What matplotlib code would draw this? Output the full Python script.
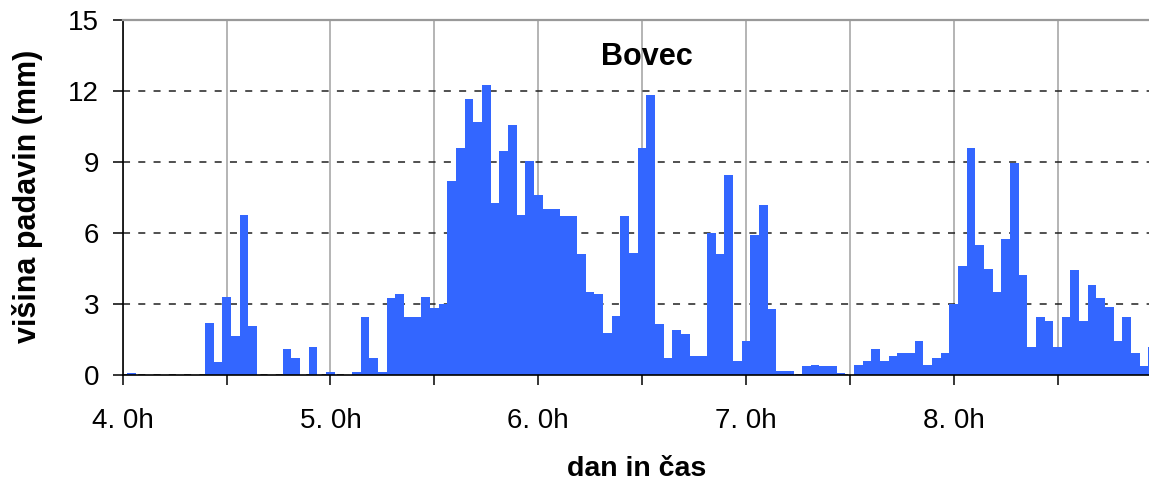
import numpy as np
import matplotlib.pyplot as plt
from matplotlib.ticker import FixedLocator, FixedFormatter

plt.rcParams['font.family'] = ['Liberation Sans', 'DejaVu Sans']

# hourly rainfall (mm), first bar at day 4.0h, one value per hour
start_day = 4.0
rain_mm = [
    0, 0.1, 0, 0, 0, 0, 0, 0, 0, 0, 2.2, 0.55, 3.3, 1.65, 6.75, 2.1,
    0, 0, 0, 1.1, 0.75, 0, 1.2, 0,
    0.15, 0, 0, 0.15, 2.45, 0.75, 0.15, 3.25, 3.45, 2.45, 2.45, 3.3,
    2.85, 3.0, 8.2, 9.6, 11.65, 10.7, 12.25, 7.25, 9.45, 10.55, 6.75, 9.05,
    7.6, 7.0, 7.0, 6.7, 6.7, 5.1, 3.5, 3.45, 1.8, 2.5, 6.7, 5.15,
    9.6, 11.8, 2.15, 0.75, 1.9, 1.75, 0.8, 0.8, 6.0, 5.1, 8.45, 0.6,
    1.45, 5.9, 7.2, 2.8, 0.2, 0.2, 0, 0.4, 0.45, 0.4, 0.4, 0.1,
    0, 0.45, 0.6, 1.1, 0.6, 0.8, 0.95, 0.95, 1.45, 0.45, 0.75, 0.95,
    3.0, 4.6, 9.6, 5.5, 4.5, 3.5, 5.75, 8.95, 4.25, 1.2, 2.45, 2.3,
    1.2, 2.45, 4.45, 2.3, 3.8, 3.25, 2.9, 1.45, 2.45, 0.95, 0.4, 1.2,
]

tick_days = [4.0, 4.5, 5.0, 5.5, 6.0, 6.5, 7.0, 7.5, 8.0, 8.5]
tick_labels = ["4. 0h", "", "5. 0h", "", "6. 0h", "", "7. 0h", "", "8. 0h", ""]
y_ticks = [0, 3, 6, 9, 12, 15]

fig = plt.figure(figsize=(11.49, 4.83), dpi=100)
ax = fig.add_axes([0.1068, 0.2226, 0.8932 + 0.001, 0.737])

t = start_day + np.arange(len(rain_mm)) / 24.0
ax.bar(t, rain_mm, width=1 / 24.0, color='#3366ff', linewidth=0, zorder=2)

ax.set_xlim(4.0, 8.946)
ax.set_ylim(0, 15)

ax.xaxis.set_major_locator(FixedLocator(tick_days))
ax.xaxis.set_major_formatter(FixedFormatter(tick_labels))
ax.set_yticks(y_ticks)

ax.set_axisbelow(True)
ax.xaxis.grid(True, color='#a0a0a0', linewidth=1.1)
ax.yaxis.grid(True, color='#202020', linewidth=1.1, linestyle=(0, (4.6, 5.4)))

for s in ['left', 'bottom']:
    ax.spines[s].set_color('black')
    ax.spines[s].set_linewidth(1.2)
ax.spines['right'].set_visible(False)
ax.spines['top'].set_color('#999999')
ax.spines['top'].set_linewidth(1.6)

ax.tick_params(axis='both', direction='out', length=7, width=1.1,
               color='black', labelsize=20)
ax.tick_params(axis='x', pad=16.5)
ax.tick_params(axis='y', pad=10)

ax.text(0.51, 0.872, 'Bovec', transform=ax.transAxes, ha='center',
        va='baseline', fontsize=22, fontweight='bold')

fig.text(637 / 1149, 1 - 476 / 483, 'dan in čas', ha='center', va='baseline',
         fontsize=20.5, fontweight='bold')
fig.text(28 / 1149, 1 - 196 / 483, 'višina padavin (mm)', rotation=90,
         ha='center', va='center', fontsize=22, fontweight='bold')

fig.savefig('out.png', dpi=100)
